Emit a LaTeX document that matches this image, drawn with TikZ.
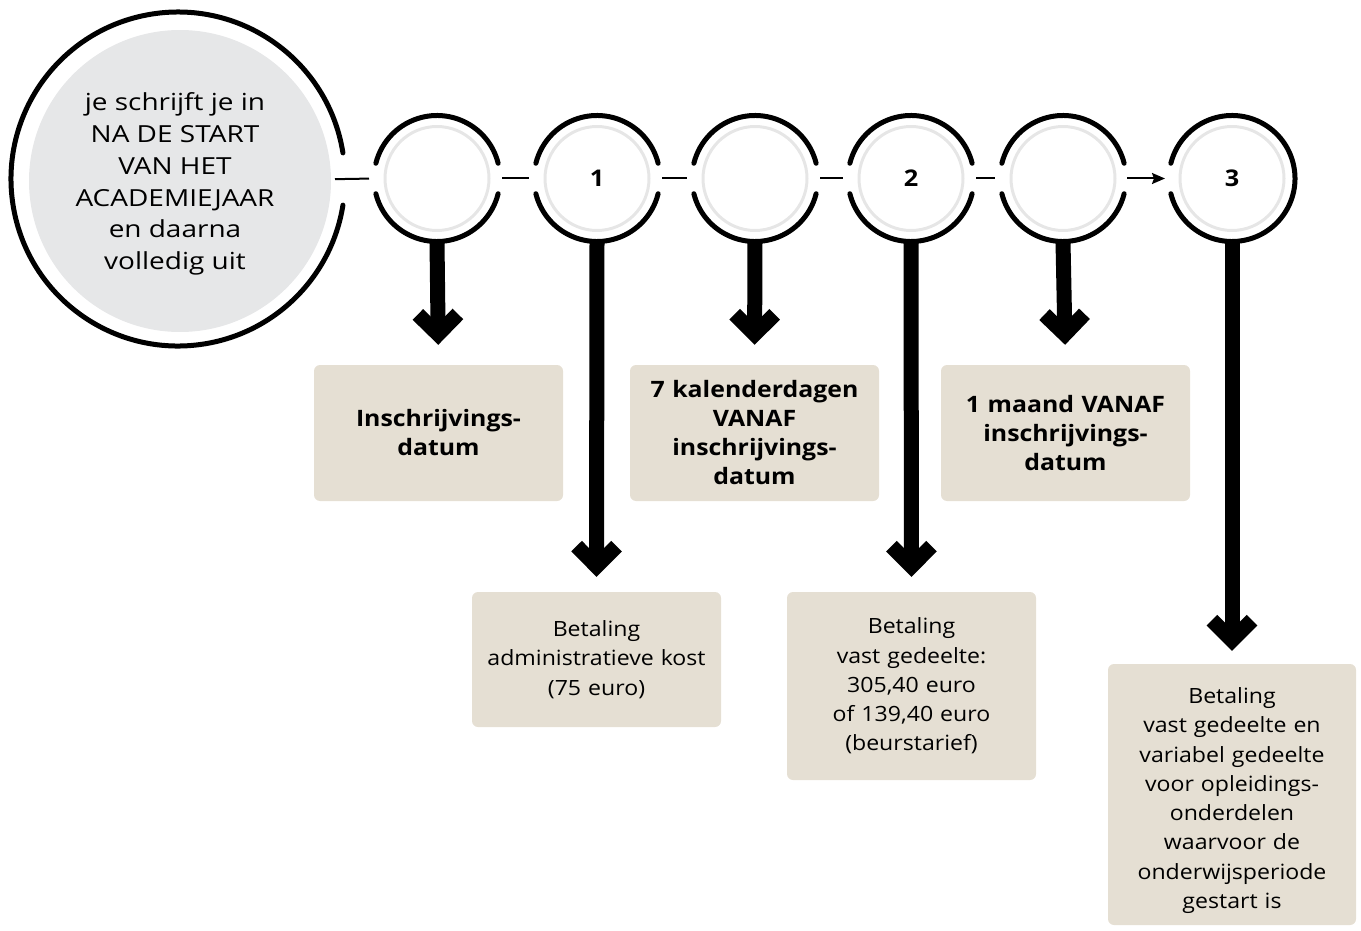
\documentclass[tikz,border=0pt]{standalone}
\usepackage{fontspec}
\setmainfont{Open Sans}[FakeStretch=1.1]
\newfontfamily\circlefont{Open Sans}[FakeStretch=1.19]
\usetikzlibrary{arrows.meta,calc}
\definecolor{boxfill}{HTML}{E5DFD3}
\definecolor{ringgray}{HTML}{E6E6E6}
\definecolor{discgray}{HTML}{E6E7E8}
\begin{document}
\begin{tikzpicture}[x=1pt,y=-1pt,
  stage/.style={circle, minimum size=126pt, inner sep=0pt, outer sep=0pt,
    font=\fontsize{23}{26}\selectfont\bfseries},
  bigstage/.style={circle, minimum size=334pt, inner sep=0pt, outer sep=0pt},
  ring/.style={line width=5pt, line cap=round},
  innerring/.style={draw=ringgray, line width=3pt},
  bodytext/.style={inner sep=0pt, align=center, text width=236pt,
    font=\fontsize{21}{29.3}\selectfont},
  infobox/.style={bodytext, fill=boxfill, rounded corners=6pt, minimum width=249pt},
  boldbox/.style={infobox, font=\fontsize{22.6}{29}\selectfont\bfseries},
  link/.style={line width=2pt},
  bigarrow/.style={line width=15pt, -{Straight Barb[length=20pt,width=40pt]}},
]
\useasboundingbox (0,0) rectangle (1361,931);

% big start circle
\node[bigstage] (c0) at (178,179) {};
\fill[discgray] (180,181) circle[radius=151pt];
\draw[ring] (c0.9) arc[start angle=9, end angle=351, radius=167pt];
\node[align=center, font=\circlefont\fontsize{23.5}{31.7}\selectfont] (t0) at (175,184)
  {je schrijft je in\\NA DE START\\VAN HET\\ACADEMIEJAAR\\en daarna\\volledig uit};

% stage circles
\node[stage] (c1) at (437,178.5) {};
\node[stage] (c2) at (597,178.5) {\raisebox{-2pt}{1}};
\node[stage] (c3) at (755,178.5) {};
\node[stage] (c4) at (911,178.5) {\raisebox{-2pt}{2}};
\node[stage] (c5) at (1063,178.5) {};
\node[stage] (c6) at (1232,178.5) {\raisebox{-2pt}{3}};

\foreach \c in {c1,c2,c3,c4,c5,c6}{
  \draw[innerring] (\c) circle[radius=52pt];
}
\foreach \c in {c1,c2,c3,c4,c5}{
  \draw[ring] (\c.14) arc[start angle=14, end angle=166, radius=63pt];
  \draw[ring] (\c.194) arc[start angle=194, end angle=346, radius=63pt];
}
\draw[ring] (c6.194) arc[start angle=-166, end angle=166, radius=63pt];

% horizontal links
\draw[link, shorten <=-10pt, shorten >=5pt] (c0.east) -- (c1.west);
\draw[link, shorten <=2pt, shorten >=5pt] (c1.east) -- (c2.west);
\draw[link, shorten <=2pt, shorten >=5pt] (c2.east) -- (c3.west);
\draw[link, shorten <=2pt, shorten >=5pt] (c3.east) -- (c4.west);
\draw[link, shorten <=2pt, shorten >=5pt] (c4.east) -- (c5.west);
\draw[link, shorten <=1pt, shorten >=4pt, -{Stealth[length=13pt,width=11pt,inset=2pt]}] (c5.east) -- (c6.west);

% boxes
\node[boldbox, minimum height=136pt] (bA) at (438.5,433) {Inschrijvings-\\datum};
\node[boldbox, minimum height=136pt] (bB) at (754.5,433) {7 kalenderdagen\\VANAF\\inschrijvings-\\datum};
\node[boldbox, minimum height=136pt] (bC) at (1065.5,433) {1 maand VANAF\\inschrijvings-\\datum};
\node[infobox, minimum height=135pt] (bD) at (596.5,659.5) {Betaling\\administratieve kost\\(75 euro)};
\node[infobox, minimum height=188pt] (bE) at (911.5,686) {Betaling\\vast gedeelte:\\305,40 euro\\of 139,40 euro\\(beurstarief)};
\node[infobox, minimum height=261pt, minimum width=248pt] (bF) at (1232,794.5) {};
\node[bodytext] (tF) at ($(bF.center)+(0,6)$) {Betaling\\vast gedeelte en\\variabel gedeelte\\voor opleidings-\\onderdelen\\waarvoor de\\onderwijsperiode\\gestart is};

% vertical arrows
\draw[bigarrow, shorten >=20pt] (c1.south) -- (bA.north);
\draw[bigarrow, shorten >=15pt] (c2.south) -- (bD.north);
\draw[bigarrow, shorten >=20pt] (c3.south) -- (bB.north);
\draw[bigarrow, shorten >=15pt] (c4.south) -- (bE.north);
\draw[bigarrow, shorten >=20pt] (c5.south) -- (bC.north);
\draw[bigarrow, shorten >=13pt] (c6.south) -- (bF.north);
\end{tikzpicture}
\end{document}
